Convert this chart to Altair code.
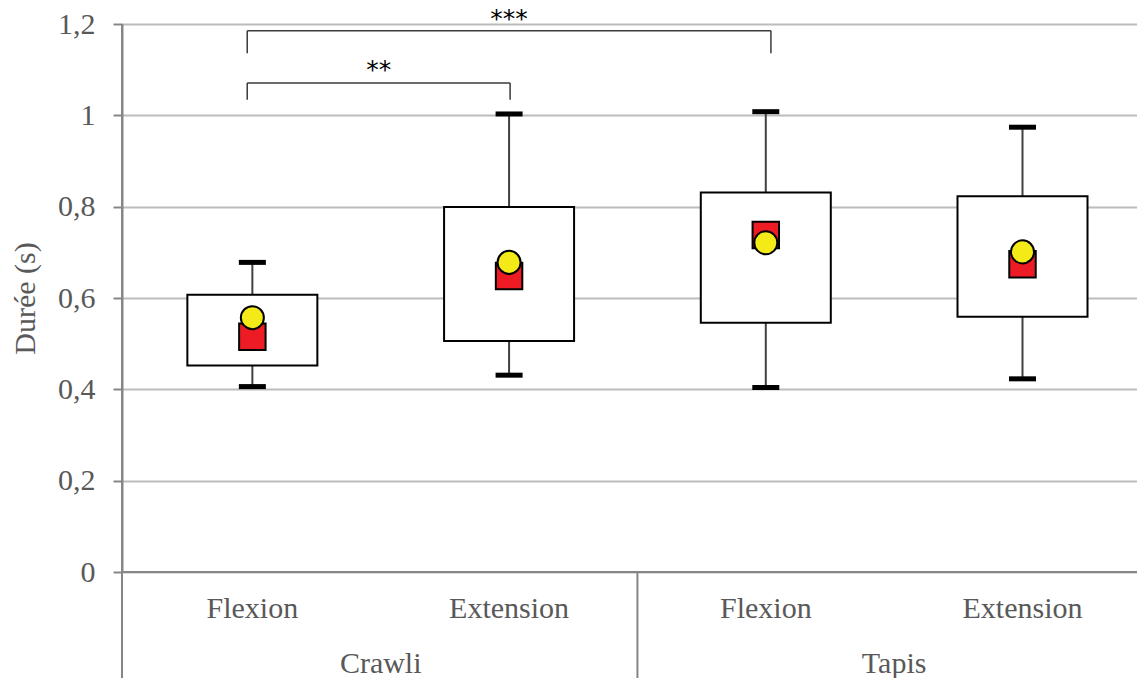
import altair as alt
import pandas as pd
import numpy as np

# ---- data ----
conditions = ["Flexion", "Extension", "Flexion", "Extension"]
groups = ["Crawli", "Crawli", "Tapis", "Tapis"]
whisker_low = [0.406, 0.431, 0.404, 0.423]
q1 = [0.452, 0.506, 0.546, 0.559]
q3 = [0.607, 0.799, 0.831, 0.823]
whisker_high = [0.678, 1.003, 1.008, 0.974]
square_vals = [0.515, 0.648, 0.738, 0.674]
circle_vals = [0.557, 0.678, 0.721, 0.701]

group_names = ["Crawli", "Tapis"]

y_ticks = [0, 0.2, 0.4, 0.6, 0.8, 1.0, 1.2]

# significance brackets (x in category units, y in data units)
bracket_x1 = [0.48, 0.48]
bracket_x2 = [1.504, 2.52]
bracket_label = ["**", "***"]
bracket_top = [1.071, 1.185]
bracket_foot = [1.034, 1.136]
label_y = [1.104, 1.215]

df = pd.DataFrame({
    "cond": conditions, "group": groups,
    "lo": whisker_low, "q1": q1, "q3": q3, "hi": whisker_high,
    "sq": square_vals, "ci": circle_vals,
})
df["pos"] = np.arange(len(df)) + 0.5

gdf = pd.DataFrame({"group": group_names})
gdf["pos"] = np.arange(len(gdf)) * 2 + 1.0

bdf = pd.DataFrame({
    "a": bracket_x1, "b": bracket_x2,
    "top": bracket_top, "foot": bracket_foot, "label": bracket_label, "ly": label_y,
})
bdf["mid"] = (bdf["a"] + bdf["b"]) / 2

SERIF = "Liberation Serif"
GREY_TXT = "#595959"
AXIS_C = "#868686"

W, H = 1015, 548
PB = 106
xscale = alt.Scale(domain=[-0.0078, 3.946], nice=False, zero=False, padding=0)
yscale = alt.Scale(domain=[0, 1.2], nice=False, padding=0)

X = alt.X("pos:Q", scale=xscale, axis=None)
Yaxis = alt.Axis(
    values=y_ticks,
    labelExpr="replace(format(datum.value, '~g'), '.', ',')",
    labelFont=SERIF, labelFontSize=30, labelColor=GREY_TXT, labelPadding=18,
    tickSize=9, tickColor=AXIS_C, tickWidth=2,
    domainColor=AXIS_C, domainWidth=2,
    grid=True, gridColor="#bcbcbc", gridWidth=2,
    title="Durée (s)", titleFont=SERIF, titleFontSize=30, titleFontWeight="normal",
    titleColor=GREY_TXT, titleX=-97, titleY=274, titleBaseline="middle", titleAngle=270,
)

base = alt.Chart(df)

whisk = base.mark_rule(color="#404040", strokeWidth=2).encode(
    x=X, y=alt.Y("lo:Q", scale=yscale, axis=Yaxis), y2="hi:Q")

box = base.mark_bar(size=130, fill="white", stroke="black", strokeWidth=2).encode(
    x=X, y=alt.Y("q1:Q", scale=yscale), y2="q3:Q")

cap_lo = base.mark_tick(orient="horizontal", size=27, thickness=5, color="black", opacity=1).encode(
    x=X, y=alt.Y("lo:Q", scale=yscale))
cap_hi = base.mark_tick(orient="horizontal", size=27, thickness=5, color="black", opacity=1).encode(
    x=X, y=alt.Y("hi:Q", scale=yscale))

sq = base.mark_point(shape="square", filled=True, size=700, fill="#ed1c24",
                     stroke="black", strokeWidth=2, opacity=1).encode(
    x=X, y=alt.Y("sq:Q", scale=yscale))
ci = base.mark_point(shape="circle", filled=True, size=530, fill="#f3ea17",
                     stroke="black", strokeWidth=2, opacity=1).encode(
    x=X, y=alt.Y("ci:Q", scale=yscale))

# x axis baseline, left axis extension and group divider
baseline = alt.Chart(gdf).mark_rule(color=AXIS_C, strokeWidth=2).encode(
    x=alt.value(0), x2=alt.value(W), y=alt.value(H))
left_line = alt.Chart(gdf).mark_rule(color=AXIS_C, strokeWidth=2).encode(
    x=alt.value(0), y=alt.value(0), y2=alt.value(H + PB))
divider = alt.Chart(gdf).mark_rule(color=AXIS_C, strokeWidth=2).encode(
    x=alt.X("pos:Q", scale=xscale, axis=None), y=alt.value(H), y2=alt.value(H + PB)
).transform_filter(alt.datum.group == group_names[1]).transform_calculate(pos="datum.pos - 1")

cond_text = base.mark_text(font=SERIF, fontSize=30, color=GREY_TXT, baseline="middle").encode(
    x=X, y=alt.value(585), text="cond:N")
group_text = alt.Chart(gdf).mark_text(font=SERIF, fontSize=30, color=GREY_TXT, baseline="middle").encode(
    x=alt.X("pos:Q", scale=xscale, axis=None), y=alt.value(640), text="group:N")

bc = alt.Chart(bdf)
BR = "#3a3a3a"
b_h = bc.mark_rule(color=BR, strokeWidth=1.5).encode(
    x=alt.X("a:Q", scale=xscale, axis=None), x2="b:Q", y=alt.Y("top:Q", scale=yscale))
b_l = bc.mark_rule(color=BR, strokeWidth=1.5).encode(
    x=alt.X("a:Q", scale=xscale, axis=None), y=alt.Y("top:Q", scale=yscale), y2="foot:Q")
b_r = bc.mark_rule(color=BR, strokeWidth=1.5).encode(
    x=alt.X("b:Q", scale=xscale, axis=None), y=alt.Y("top:Q", scale=yscale), y2="foot:Q")
b_t = bc.mark_text(font="DejaVu Sans", fontSize=25, color="black", baseline="middle", dy=2).encode(
    x=alt.X("mid:Q", scale=xscale, axis=None), y=alt.Y("ly:Q", scale=yscale), text="label:N")

chart = alt.layer(
    whisk, box, cap_lo, cap_hi, sq, ci,
    baseline, left_line, divider, cond_text, group_text,
    b_h, b_l, b_r, b_t,
).properties(
    width=W, height=H,
    autosize=alt.AutoSizeParams(type="none"),
    padding={"left": 114, "top": 16, "right": 0, "bottom": PB},
).configure_view(stroke=None)

chart.save("out.html", embed_options={"renderer": "svg", "actions": False})
